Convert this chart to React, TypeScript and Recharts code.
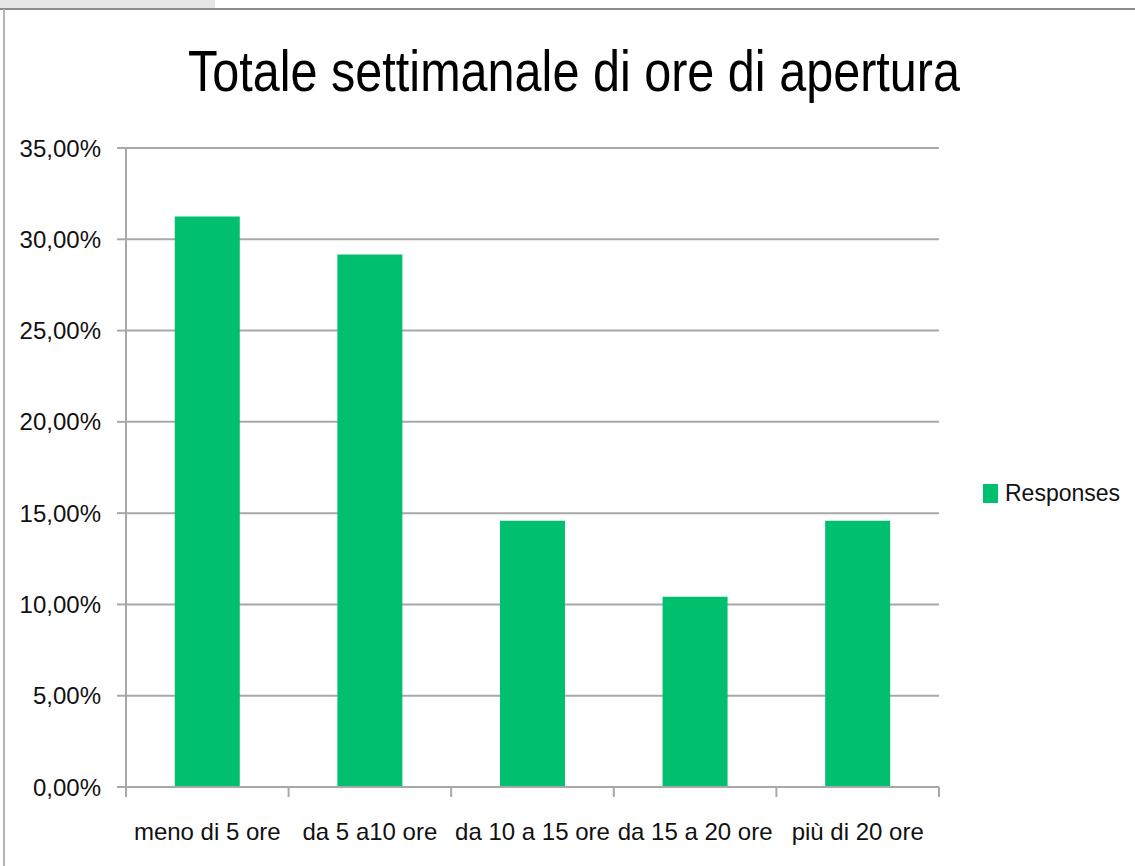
import React from "react";
import { BarChart, Bar, XAxis, YAxis, CartesianGrid, Legend } from "recharts";

const categories = ["meno di 5 ore", "da 5 a10 ore", "da 10 a 15 ore", "da 15 a 20 ore", "più di 20 ore"];
const responses = [0.3125, 0.2917, 0.1458, 0.1042, 0.1458];
const yTicks = [0, 0.05, 0.1, 0.15, 0.2, 0.25, 0.3, 0.35];

const data = categories.map((c, i) => ({ name: c, Responses: responses[i] }));

const GREEN = "#00BF6F";
const GRID = "#a8a8a8";
const FONT = "'Liberation Sans', Arial, sans-serif";

const fmtPct = (v: number) => (v * 100).toFixed(2).replace(".", ",") + "%";

function XTick(props: any) {
  const { x, y, payload, index } = props;
  const half = payload?.offset ?? 81.3;
  return (
    <g>
      <line x1={x - half} x2={x - half} y1={y} y2={y + 10} stroke={GRID} strokeWidth={2} />
      {index === categories.length - 1 && (
        <line x1={x + half} x2={x + half} y1={y} y2={y + 10} stroke={GRID} strokeWidth={2} />
      )}
      <text x={x} y={y + 53} textAnchor="middle" fontFamily={FONT} fontSize={24} fill="#111">
        {payload.value}
      </text>
    </g>
  );
}

function LegendBox() {
  return (
    <div style={{ display: "flex", alignItems: "center", fontFamily: FONT, fontSize: 23, color: "#111" }}>
      <span style={{ display: "inline-block", width: 15, height: 19, background: GREEN, marginRight: 7 }} />
      <span>Responses</span>
    </div>
  );
}

export default function App() {
  return (
    <div style={{ position: "fixed", left: 0, top: 0, width: 1135, height: 866, background: "#fff", overflow: "hidden" }}>
      <div style={{ position: "absolute", left: 0, top: 0, width: 215, height: 8, background: "#e6e6e6" }} />
      <div style={{ position: "absolute", left: 0, top: 8, width: 1135, height: 2, background: "#8c8c8c" }} />
      <div style={{ position: "absolute", left: 3, top: 9, width: 2, height: 857, background: "#b4b4b4" }} />
      <svg style={{ position: "absolute", left: 0, top: 0 }} width={1135} height={140}>
        <text x={574} y={91} textAnchor="middle" fontFamily={FONT} fontSize={58} fill="#000" textLength={772} lengthAdjust="spacingAndGlyphs">
          Totale settimanale di ore di apertura
        </text>
      </svg>
      <div style={{ position: "absolute", left: 0, top: 0 }}>
        <BarChart width={1135} height={866} data={data} margin={{ top: 148, right: 196, bottom: 19, left: 0 }} barCategoryGap="30%">
          <CartesianGrid horizontal vertical={false} stroke={GRID} strokeWidth={2} />
          <XAxis
            dataKey="name"
            height={60}
            tickLine={false}
            tickSize={0}
            tickMargin={0}
            axisLine={{ stroke: GRID, strokeWidth: 2 }}
            tick={<XTick />}
            interval={0}
          />
          <YAxis
            width={126}
            domain={[0, 0.35]}
            ticks={yTicks}
            tickFormatter={fmtPct}
            tickSize={9}
            tickMargin={16}
            tickLine={{ stroke: GRID, strokeWidth: 2 }}
            axisLine={{ stroke: GRID, strokeWidth: 2 }}
            tick={{ fontFamily: FONT, fontSize: 24, fill: "#111" }}
            interval={0}
          />
          <Legend
            layout="horizontal"
            verticalAlign="middle"
            align="center"
            width={160}
            wrapperStyle={{ left: 983, top: 480, width: 160 }}
            content={<LegendBox />}
          />
          <Bar dataKey="Responses" fill={GREEN} isAnimationActive={false} />
        </BarChart>
      </div>
    </div>
  );
}
